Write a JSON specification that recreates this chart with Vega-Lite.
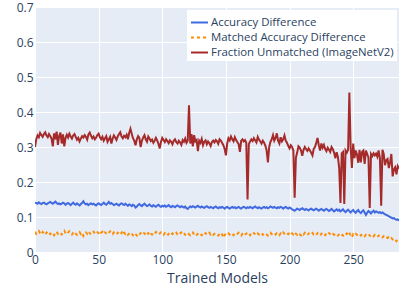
{
"$schema": "https://vega.github.io/schema/vega-lite/v6.json",
"width": 364, "height": 245,
"autosize": "none",
"padding": {"left": 35, "top": 7, "right": 0, "bottom": 33},
"background": "white",
"data": {"values": [
{"x":0,"a":0.141,"m":0.058,"f":0.300},{"x":1,"a":0.140,"m":0.052,"f":0.322},{"x":2,"a":0.138,"m":0.056,"f":0.333},{"x":3,"a":0.142,"m":0.060,"f":0.328},{"x":4,"a":0.139,"m":0.054,"f":0.340},{"x":5,"a":0.137,"m":0.050,"f":0.334},{"x":6,"a":0.140,"m":0.057,"f":0.329},{"x":7,"a":0.141,"m":0.053,"f":0.337},{"x":8,"a":0.138,"m":0.049,"f":0.342},{"x":9,"a":0.136,"m":0.055,"f":0.333},
{"x":10,"a":0.139,"m":0.059,"f":0.328},{"x":11,"a":0.141,"m":0.053,"f":0.337},{"x":12,"a":0.143,"m":0.051,"f":0.331},{"x":13,"a":0.140,"m":0.056,"f":0.324},{"x":14,"a":0.138,"m":0.054,"f":0.302},{"x":15,"a":0.141,"m":0.048,"f":0.339},{"x":16,"a":0.144,"m":0.055,"f":0.322},{"x":17,"a":0.140,"m":0.058,"f":0.344},{"x":18,"a":0.137,"m":0.052,"f":0.306},{"x":19,"a":0.139,"m":0.056,"f":0.332},
{"x":20,"a":0.136,"m":0.053,"f":0.341},{"x":21,"a":0.138,"m":0.050,"f":0.310},{"x":22,"a":0.141,"m":0.057,"f":0.336},{"x":23,"a":0.139,"m":0.061,"f":0.302},{"x":24,"a":0.135,"m":0.054,"f":0.326},{"x":25,"a":0.138,"m":0.051,"f":0.335},{"x":26,"a":0.140,"m":0.056,"f":0.327},{"x":27,"a":0.137,"m":0.059,"f":0.338},{"x":28,"a":0.134,"m":0.053,"f":0.330},{"x":29,"a":0.138,"m":0.050,"f":0.324},
{"x":30,"a":0.141,"m":0.055,"f":0.333},{"x":31,"a":0.137,"m":0.058,"f":0.337},{"x":32,"a":0.135,"m":0.052,"f":0.329},{"x":33,"a":0.139,"m":0.049,"f":0.321},{"x":34,"a":0.136,"m":0.054,"f":0.326},{"x":35,"a":0.133,"m":0.057,"f":0.316},{"x":36,"a":0.137,"m":0.051,"f":0.324},{"x":37,"a":0.140,"m":0.055,"f":0.331},{"x":38,"a":0.145,"m":0.046,"f":0.327},{"x":39,"a":0.139,"m":0.053,"f":0.334},
{"x":40,"a":0.136,"m":0.056,"f":0.329},{"x":41,"a":0.138,"m":0.052,"f":0.321},{"x":42,"a":0.134,"m":0.059,"f":0.336},{"x":43,"a":0.137,"m":0.054,"f":0.341},{"x":44,"a":0.139,"m":0.050,"f":0.332},{"x":45,"a":0.136,"m":0.055,"f":0.325},{"x":46,"a":0.138,"m":0.058,"f":0.330},{"x":47,"a":0.135,"m":0.053,"f":0.322},{"x":48,"a":0.133,"m":0.051,"f":0.327},{"x":49,"a":0.137,"m":0.056,"f":0.334},
{"x":50,"a":0.139,"m":0.054,"f":0.338},{"x":51,"a":0.136,"m":0.049,"f":0.328},{"x":52,"a":0.134,"m":0.055,"f":0.322},{"x":53,"a":0.138,"m":0.058,"f":0.329},{"x":54,"a":0.141,"m":0.052,"f":0.318},{"x":55,"a":0.137,"m":0.056,"f":0.325},{"x":56,"a":0.135,"m":0.053,"f":0.331},{"x":57,"a":0.139,"m":0.050,"f":0.315},{"x":58,"a":0.143,"m":0.055,"f":0.322},{"x":59,"a":0.138,"m":0.059,"f":0.329},
{"x":60,"a":0.140,"m":0.053,"f":0.310},{"x":61,"a":0.137,"m":0.051,"f":0.324},{"x":62,"a":0.134,"m":0.056,"f":0.333},{"x":63,"a":0.136,"m":0.054,"f":0.327},{"x":64,"a":0.138,"m":0.050,"f":0.320},{"x":65,"a":0.135,"m":0.055,"f":0.330},{"x":66,"a":0.133,"m":0.052,"f":0.337},{"x":67,"a":0.137,"m":0.057,"f":0.342},{"x":68,"a":0.139,"m":0.054,"f":0.330},{"x":69,"a":0.136,"m":0.062,"f":0.325},
{"x":70,"a":0.134,"m":0.055,"f":0.332},{"x":71,"a":0.138,"m":0.051,"f":0.328},{"x":72,"a":0.135,"m":0.054,"f":0.335},{"x":73,"a":0.132,"m":0.049,"f":0.322},{"x":74,"a":0.136,"m":0.053,"f":0.340},{"x":75,"a":0.134,"m":0.056,"f":0.352},{"x":76,"a":0.131,"m":0.052,"f":0.338},{"x":77,"a":0.135,"m":0.048,"f":0.325},{"x":78,"a":0.133,"m":0.054,"f":0.318},{"x":79,"a":0.127,"m":0.051,"f":0.305},
{"x":80,"a":0.130,"m":0.047,"f":0.322},{"x":81,"a":0.134,"m":0.044,"f":0.331},{"x":82,"a":0.137,"m":0.050,"f":0.326},{"x":83,"a":0.133,"m":0.054,"f":0.300},{"x":84,"a":0.131,"m":0.051,"f":0.318},{"x":85,"a":0.135,"m":0.056,"f":0.327},{"x":86,"a":0.138,"m":0.053,"f":0.334},{"x":87,"a":0.134,"m":0.049,"f":0.322},{"x":88,"a":0.131,"m":0.055,"f":0.315},{"x":89,"a":0.133,"m":0.052,"f":0.330},
{"x":90,"a":0.136,"m":0.058,"f":0.324},{"x":91,"a":0.132,"m":0.053,"f":0.317},{"x":92,"a":0.130,"m":0.050,"f":0.321},{"x":93,"a":0.134,"m":0.055,"f":0.312},{"x":94,"a":0.131,"m":0.052,"f":0.318},{"x":95,"a":0.129,"m":0.057,"f":0.326},{"x":96,"a":0.133,"m":0.054,"f":0.319},{"x":97,"a":0.135,"m":0.050,"f":0.309},{"x":98,"a":0.131,"m":0.053,"f":0.296},{"x":99,"a":0.129,"m":0.056,"f":0.315},
{"x":100,"a":0.132,"m":0.052,"f":0.326},{"x":101,"a":0.130,"m":0.049,"f":0.320},{"x":102,"a":0.133,"m":0.054,"f":0.314},{"x":103,"a":0.129,"m":0.051,"f":0.322},{"x":104,"a":0.131,"m":0.047,"f":0.317},{"x":105,"a":0.134,"m":0.052,"f":0.311},{"x":106,"a":0.130,"m":0.055,"f":0.319},{"x":107,"a":0.128,"m":0.050,"f":0.315},{"x":108,"a":0.132,"m":0.053,"f":0.308},{"x":109,"a":0.130,"m":0.049,"f":0.318},
{"x":110,"a":0.128,"m":0.052,"f":0.322},{"x":111,"a":0.131,"m":0.055,"f":0.314},{"x":112,"a":0.133,"m":0.050,"f":0.310},{"x":113,"a":0.130,"m":0.048,"f":0.318},{"x":114,"a":0.128,"m":0.053,"f":0.313},{"x":115,"a":0.131,"m":0.056,"f":0.306},{"x":116,"a":0.129,"m":0.051,"f":0.320},{"x":117,"a":0.127,"m":0.054,"f":0.315},{"x":118,"a":0.130,"m":0.049,"f":0.324},{"x":119,"a":0.125,"m":0.052,"f":0.312},
{"x":120,"a":0.123,"m":0.055,"f":0.318},{"x":121,"a":0.127,"m":0.051,"f":0.419},{"x":122,"a":0.130,"m":0.048,"f":0.310},{"x":123,"a":0.128,"m":0.053,"f":0.337},{"x":124,"a":0.131,"m":0.056,"f":0.302},{"x":125,"a":0.129,"m":0.050,"f":0.334},{"x":126,"a":0.127,"m":0.053,"f":0.316},{"x":127,"a":0.130,"m":0.049,"f":0.320},{"x":128,"a":0.132,"m":0.052,"f":0.288},{"x":129,"a":0.129,"m":0.055,"f":0.318},
{"x":130,"a":0.127,"m":0.051,"f":0.312},{"x":131,"a":0.130,"m":0.048,"f":0.323},{"x":132,"a":0.128,"m":0.053,"f":0.305},{"x":133,"a":0.126,"m":0.050,"f":0.315},{"x":134,"a":0.129,"m":0.054,"f":0.319},{"x":135,"a":0.131,"m":0.049,"f":0.308},{"x":136,"a":0.128,"m":0.052,"f":0.316},{"x":137,"a":0.126,"m":0.055,"f":0.311},{"x":138,"a":0.129,"m":0.050,"f":0.303},{"x":139,"a":0.127,"m":0.053,"f":0.314},
{"x":140,"a":0.125,"m":0.049,"f":0.318},{"x":141,"a":0.128,"m":0.052,"f":0.313},{"x":142,"a":0.130,"m":0.054,"f":0.320},{"x":143,"a":0.127,"m":0.050,"f":0.316},{"x":144,"a":0.125,"m":0.047,"f":0.309},{"x":145,"a":0.128,"m":0.052,"f":0.322},{"x":146,"a":0.126,"m":0.055,"f":0.318},{"x":147,"a":0.129,"m":0.050,"f":0.312},{"x":148,"a":0.127,"m":0.041,"f":0.305},{"x":149,"a":0.124,"m":0.048,"f":0.295},
{"x":150,"a":0.127,"m":0.052,"f":0.276},{"x":151,"a":0.129,"m":0.049,"f":0.310},{"x":152,"a":0.126,"m":0.053,"f":0.325},{"x":153,"a":0.124,"m":0.050,"f":0.319},{"x":154,"a":0.127,"m":0.054,"f":0.330},{"x":155,"a":0.129,"m":0.051,"f":0.322},{"x":156,"a":0.126,"m":0.048,"f":0.316},{"x":157,"a":0.128,"m":0.053,"f":0.328},{"x":158,"a":0.125,"m":0.050,"f":0.320},{"x":159,"a":0.127,"m":0.052,"f":0.314},
{"x":160,"a":0.129,"m":0.055,"f":0.308},{"x":161,"a":0.126,"m":0.050,"f":0.286},{"x":162,"a":0.124,"m":0.047,"f":0.318},{"x":163,"a":0.127,"m":0.052,"f":0.322},{"x":164,"a":0.129,"m":0.054,"f":0.316},{"x":165,"a":0.127,"m":0.049,"f":0.320},{"x":166,"a":0.125,"m":0.052,"f":0.312},{"x":167,"a":0.128,"m":0.056,"f":0.150},{"x":168,"a":0.126,"m":0.051,"f":0.308},{"x":169,"a":0.129,"m":0.048,"f":0.316},
{"x":170,"a":0.127,"m":0.053,"f":0.322},{"x":171,"a":0.125,"m":0.050,"f":0.317},{"x":172,"a":0.128,"m":0.054,"f":0.325},{"x":173,"a":0.130,"m":0.051,"f":0.319},{"x":174,"a":0.127,"m":0.048,"f":0.313},{"x":175,"a":0.125,"m":0.053,"f":0.329},{"x":176,"a":0.128,"m":0.050,"f":0.321},{"x":177,"a":0.126,"m":0.052,"f":0.316},{"x":178,"a":0.124,"m":0.055,"f":0.310},{"x":179,"a":0.127,"m":0.049,"f":0.318},
{"x":180,"a":0.129,"m":0.052,"f":0.312},{"x":181,"a":0.126,"m":0.054,"f":0.304},{"x":182,"a":0.128,"m":0.050,"f":0.290},{"x":183,"a":0.125,"m":0.047,"f":0.256},{"x":184,"a":0.127,"m":0.052,"f":0.300},{"x":185,"a":0.130,"m":0.055,"f":0.315},{"x":186,"a":0.128,"m":0.051,"f":0.322},{"x":187,"a":0.126,"m":0.049,"f":0.334},{"x":188,"a":0.129,"m":0.053,"f":0.318},{"x":189,"a":0.127,"m":0.050,"f":0.326},
{"x":190,"a":0.125,"m":0.054,"f":0.339},{"x":191,"a":0.128,"m":0.051,"f":0.318},{"x":192,"a":0.126,"m":0.048,"f":0.310},{"x":193,"a":0.129,"m":0.053,"f":0.328},{"x":194,"a":0.127,"m":0.050,"f":0.316},{"x":195,"a":0.124,"m":0.056,"f":0.322},{"x":196,"a":0.127,"m":0.052,"f":0.333},{"x":197,"a":0.129,"m":0.049,"f":0.318},{"x":198,"a":0.126,"m":0.053,"f":0.312},{"x":199,"a":0.124,"m":0.051,"f":0.303},
{"x":200,"a":0.127,"m":0.055,"f":0.296},{"x":201,"a":0.125,"m":0.058,"f":0.305},{"x":202,"a":0.122,"m":0.053,"f":0.300},{"x":203,"a":0.120,"m":0.050,"f":0.290},{"x":204,"a":0.118,"m":0.056,"f":0.155},{"x":205,"a":0.121,"m":0.052,"f":0.270},{"x":206,"a":0.124,"m":0.049,"f":0.284},{"x":207,"a":0.122,"m":0.054,"f":0.302},{"x":208,"a":0.120,"m":0.051,"f":0.298},{"x":209,"a":0.123,"m":0.048,"f":0.290},
{"x":210,"a":0.125,"m":0.053,"f":0.275},{"x":211,"a":0.122,"m":0.050,"f":0.292},{"x":212,"a":0.120,"m":0.055,"f":0.300},{"x":213,"a":0.123,"m":0.052,"f":0.294},{"x":214,"a":0.121,"m":0.048,"f":0.289},{"x":215,"a":0.119,"m":0.053,"f":0.296},{"x":216,"a":0.122,"m":0.051,"f":0.290},{"x":217,"a":0.124,"m":0.049,"f":0.284},{"x":218,"a":0.121,"m":0.054,"f":0.276},{"x":219,"a":0.119,"m":0.050,"f":0.295},
{"x":220,"a":0.122,"m":0.052,"f":0.300},{"x":221,"a":0.124,"m":0.049,"f":0.312},{"x":222,"a":0.121,"m":0.054,"f":0.326},{"x":223,"a":0.118,"m":0.051,"f":0.305},{"x":224,"a":0.121,"m":0.047,"f":0.290},{"x":225,"a":0.123,"m":0.052,"f":0.310},{"x":226,"a":0.120,"m":0.055,"f":0.298},{"x":227,"a":0.118,"m":0.050,"f":0.306},{"x":228,"a":0.121,"m":0.048,"f":0.294},{"x":229,"a":0.123,"m":0.053,"f":0.288},
{"x":230,"a":0.120,"m":0.050,"f":0.298},{"x":231,"a":0.117,"m":0.054,"f":0.292},{"x":232,"a":0.120,"m":0.051,"f":0.286},{"x":233,"a":0.123,"m":0.048,"f":0.300},{"x":234,"a":0.119,"m":0.052,"f":0.294},{"x":235,"a":0.116,"m":0.049,"f":0.284},{"x":236,"a":0.119,"m":0.053,"f":0.268},{"x":237,"a":0.122,"m":0.050,"f":0.285},{"x":238,"a":0.118,"m":0.047,"f":0.272},{"x":239,"a":0.121,"m":0.051,"f":0.240},
{"x":240,"a":0.116,"m":0.054,"f":0.140},{"x":241,"a":0.119,"m":0.050,"f":0.282},{"x":242,"a":0.122,"m":0.047,"f":0.286},{"x":243,"a":0.117,"m":0.052,"f":0.137},{"x":244,"a":0.114,"m":0.049,"f":0.290},{"x":245,"a":0.118,"m":0.053,"f":0.284},{"x":246,"a":0.121,"m":0.050,"f":0.292},{"x":247,"a":0.117,"m":0.056,"f":0.456},{"x":248,"a":0.113,"m":0.045,"f":0.300},{"x":249,"a":0.117,"m":0.042,"f":0.240},
{"x":250,"a":0.120,"m":0.051,"f":0.310},{"x":251,"a":0.115,"m":0.048,"f":0.268},{"x":252,"a":0.112,"m":0.052,"f":0.290},{"x":253,"a":0.117,"m":0.049,"f":0.278},{"x":254,"a":0.120,"m":0.046,"f":0.255},{"x":255,"a":0.114,"m":0.050,"f":0.292},{"x":256,"a":0.111,"m":0.047,"f":0.256},{"x":257,"a":0.116,"m":0.051,"f":0.286},{"x":258,"a":0.119,"m":0.048,"f":0.290},{"x":259,"a":0.113,"m":0.045,"f":0.252},
{"x":260,"a":0.106,"m":0.049,"f":0.290},{"x":261,"a":0.112,"m":0.046,"f":0.280},{"x":262,"a":0.117,"m":0.050,"f":0.270},{"x":263,"a":0.114,"m":0.047,"f":0.126},{"x":264,"a":0.110,"m":0.044,"f":0.280},{"x":265,"a":0.115,"m":0.048,"f":0.274},{"x":266,"a":0.118,"m":0.045,"f":0.282},{"x":267,"a":0.113,"m":0.049,"f":0.276},{"x":268,"a":0.116,"m":0.046,"f":0.281},{"x":269,"a":0.114,"m":0.043,"f":0.272},
{"x":270,"a":0.112,"m":0.047,"f":0.290},{"x":271,"a":0.114,"m":0.044,"f":0.268},{"x":272,"a":0.111,"m":0.046,"f":0.132},{"x":273,"a":0.113,"m":0.042,"f":0.292},{"x":274,"a":0.110,"m":0.045,"f":0.280},{"x":275,"a":0.108,"m":0.041,"f":0.248},{"x":276,"a":0.106,"m":0.043,"f":0.262},{"x":277,"a":0.104,"m":0.040,"f":0.266},{"x":278,"a":0.102,"m":0.042,"f":0.240},{"x":279,"a":0.100,"m":0.038,"f":0.256},
{"x":280,"a":0.098,"m":0.040,"f":0.280},{"x":281,"a":0.096,"m":0.036,"f":0.216},{"x":282,"a":0.097,"m":0.039,"f":0.236},{"x":283,"a":0.094,"m":0.035,"f":0.242},{"x":284,"a":0.092,"m":0.031,"f":0.222},{"x":285,"a":0.093,"m":0.036,"f":0.245},{"x":286,"a":0.090,"m":0.033,"f":0.238}
]},
"transform": [
  {"fold": ["a", "m", "f"], "as": ["k", "v"]},
  {"lookup": "k", "from": {"data": {"values": [
    {"k": "a", "name": "Accuracy Difference"},
    {"k": "m", "name": "Matched Accuracy Difference"},
    {"k": "f", "name": "Fraction Unmatched (ImageNetV2)"}
  ]}, "key": "k", "fields": ["name"]}}
],
"mark": {"type": "line", "strokeWidth": 2, "clip": true},
"encoding": {
  "x": {"field": "x", "type": "quantitative",
        "scale": {"domain": [0, 286], "nice": false, "zero": false},
        "axis": {"title": "Trained Models", "values": [0, 50, 100, 150, 200, 250], "labelPadding": 2, "titlePadding": 6, "labelFlush": false, "grid": true}},
  "y": {"field": "v", "type": "quantitative",
        "scale": {"domain": [0, 0.7], "nice": false},
        "axis": {"title": null, "values": [0, 0.1, 0.2, 0.3, 0.4, 0.5, 0.6, 0.7], "format": "~g", "labelPadding": 2, "labelFlush": false, "grid": true}},
  "color": {"field": "name", "type": "nominal",
            "scale": {"domain": ["Accuracy Difference", "Matched Accuracy Difference", "Fraction Unmatched (ImageNetV2)"], "range": ["#4169E1", "#FF8C00", "#A52A2A"]},
            "legend": {"title": null}},
  "strokeDash": {"field": "name", "type": "nominal",
            "scale": {"domain": ["Accuracy Difference", "Matched Accuracy Difference", "Fraction Unmatched (ImageNetV2)"], "range": [[1, 0], [3, 3], [1, 0]]},
            "legend": {"title": null}}
},
"config": {
  "view": {"fill": "#E5ECF6", "stroke": null},
  "axis": {"domain": false, "ticks": false, "gridColor": "#FFFFFF", "gridWidth": 1, "gridOpacity": 1,
           "labelFont": "Open Sans", "labelFontSize": 12, "labelColor": "#2a3f5f",
           "titleFont": "Open Sans", "titleFontSize": 14, "titleColor": "#2a3f5f", "titleFontWeight": "normal"},
  "legend": {"orient": "none", "legendX": 152, "legendY": 3, "fillColor": "#FFFFFF", "padding": 3,
             "symbolType": "stroke", "symbolSize": 289, "symbolStrokeWidth": 2,
             "labelFont": "Open Sans", "labelFontSize": 11.4, "labelColor": "#2a3f5f", "labelOffset": 2, "rowPadding": 0,
             "labelLimit": 300}
}
}
